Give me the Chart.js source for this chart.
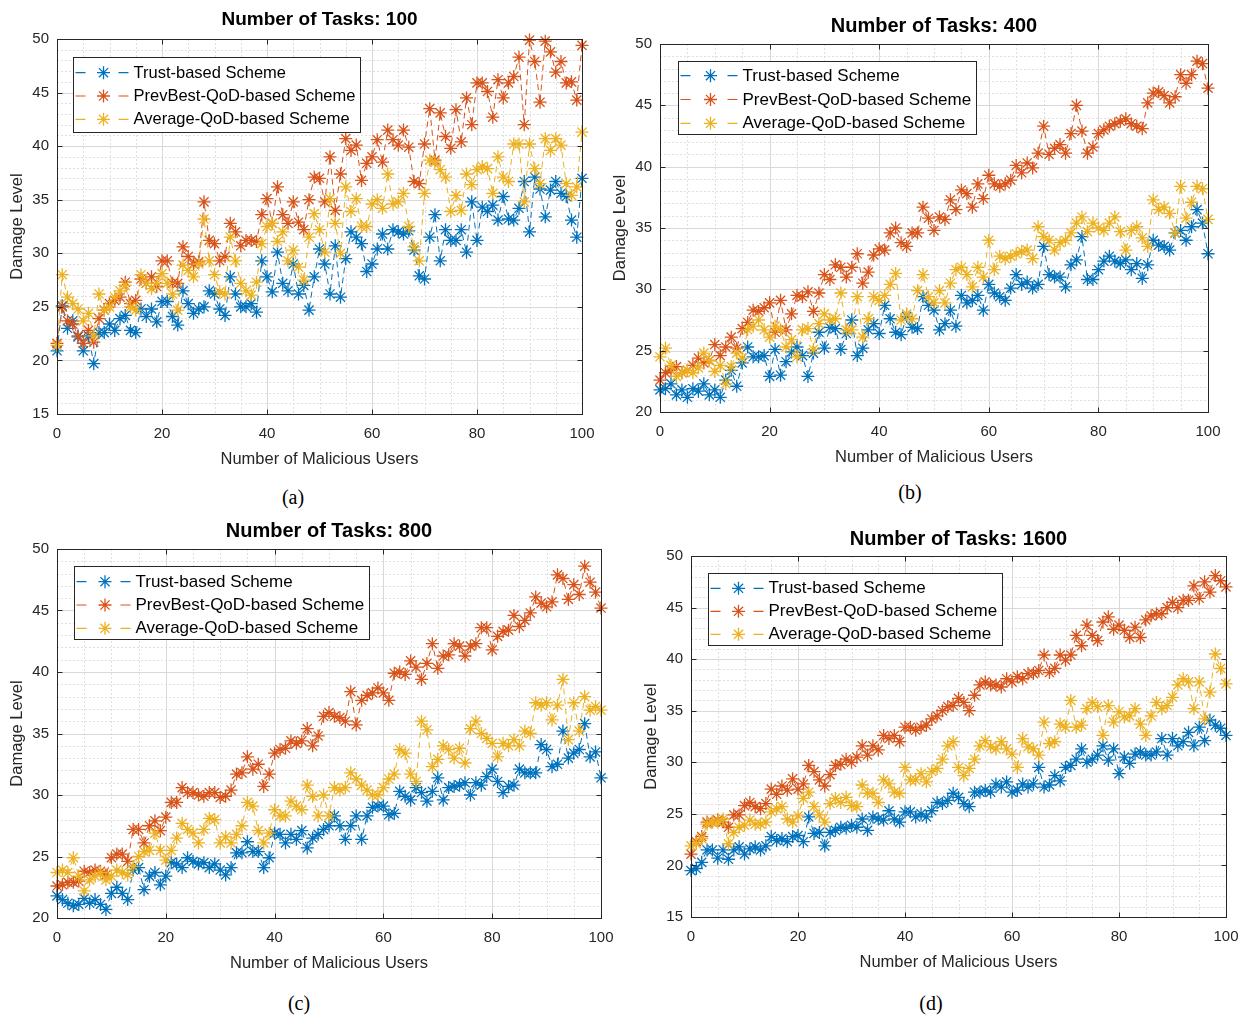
<!DOCTYPE html>
<html lang="en">
<head>
  <meta charset="UTF-8">
  <title>Damage Level vs Number of Malicious Users</title>
  <script src="https://cdn.jsdelivr.net/npm/chart.js"></script>
  <style>
    body { margin: 0; background: #fff; width: 1241px; height: 1015px; position: relative; overflow: hidden; }
    canvas { position: absolute; }
    .cap { position: absolute; transform: translate(-50%, -50%); font-family: "Liberation Serif", "Times New Roman", serif; font-size: 20px; color: #000; }
  </style>
</head>
<body>
  <canvas id="c100"></canvas>
  <canvas id="c400"></canvas>
  <canvas id="c800"></canvas>
  <canvas id="c1600"></canvas>
  <div class="cap" style="left:293px; top:497px;">(a)</div>
  <div class="cap" style="left:910px; top:492px;">(b)</div>
  <div class="cap" style="left:299px; top:1003px;">(c)</div>
  <div class="cap" style="left:931px; top:1003px;">(d)</div>

  <script>
    // x values: number of malicious users
    const users = [0,1,2,3,4,5,6,7,8,9,10,11,12,13,14,15,16,17,18,19,20,21,22,23,24,25,26,27,28,29,30,
      31,32,33,34,35,36,37,38,39,40,41,42,43,44,45,46,47,48,49,50,51,52,53,54,55,56,57,58,59,60,
      61,62,63,64,65,66,67,68,69,70,71,72,73,74,75,76,77,78,79,80,81,82,83,84,85,86,87,88,89,90,
      91,92,93,94,95,96,97,98,99,100];
    const xTicks = [0, 20, 40, 60, 80, 100];
    const seriesNames = ['Trust-based Scheme', 'PrevBest-QoD-based Scheme', 'Average-QoD-based Scheme'];

    // (a) 100 tasks
    const tasks100Trust = [20.9,25.1,23.0,23.7,22.2,20.9,22.3,19.7,22.6,22.6,
      23.4,22.8,23.9,24.2,22.8,22.6,24.8,24.1,24.8,23.6,
      25.5,25.5,24.1,23.3,26.5,25.3,24.4,24.8,25.0,26.5,
      26.2,24.8,24.2,27.8,26.2,25.0,25.0,25.3,24.5,29.3,
      27.8,26.4,30.1,27.2,26.5,29.0,26.2,27.0,24.7,27.8,
      30.4,29.0,26.2,30.7,25.9,29.5,32.0,31.5,30.9,28.3,
      29.0,30.4,31.8,30.4,32.2,32.0,31.8,32.1,30.3,27.9,
      27.6,31.5,33.6,29.3,32.2,31.2,31.2,32.2,30.1,34.8,
      31.2,34.3,33.9,34.5,33.1,35.3,33.2,33.1,34.2,36.7,
      32.0,37.1,36.0,33.4,35.9,36.7,35.6,35.3,33.1,31.5,37.0];
    const tasks100PrevBest = [21.6,25.0,23.7,23.4,22.3,21.6,22.8,21.7,23.9,24.7,
      25.3,25.6,25.9,27.3,25.3,25.6,27.6,27.2,27.8,26.9,
      29.3,29.3,27.2,27.2,30.6,29.7,29.0,29.2,34.8,31.2,
      30.9,29.3,29.7,32.8,32.0,30.7,31.2,31.2,31.1,33.6,
      35.1,32.8,36.2,33.6,32.8,34.8,32.9,32.2,35.0,37.1,
      37.0,34.8,39.0,34.0,37.4,40.7,39.6,40.1,36.8,38.4,
      39.0,40.6,38.5,41.5,40.6,40.1,41.5,39.9,36.7,36.5,
      40.2,43.5,38.7,43.1,40.9,39.8,43.4,40.4,44.5,42.0,
      45.9,45.9,45.1,42.7,46.2,44.5,45.9,46.5,48.3,42.0,
      49.9,47.9,44.1,49.8,48.8,46.9,47.9,45.9,46.0,44.3,49.4];
    const tasks100Average = [21.4,28.0,25.9,25.3,24.8,23.7,24.4,22.3,26.2,24.7,
      25.0,25.9,26.5,27.0,25.0,24.7,28.0,27.2,26.7,27.2,
      28.1,27.2,26.2,24.7,28.9,28.4,27.8,29.0,33.2,29.3,
      28.0,26.4,26.2,31.5,29.3,27.2,26.5,26.1,27.3,30.9,
      32.5,32.8,31.1,32.0,29.3,30.3,28.7,27.5,31.5,33.7,
      32.2,30.1,35.1,32.8,30.0,36.2,33.9,35.1,32.5,32.5,
      34.6,35.0,34.2,37.4,34.6,34.8,35.6,32.5,30.6,29.3,
      35.6,38.7,38.5,37.8,37.1,33.9,35.4,34.0,37.4,36.4,
      37.8,38.1,37.9,35.6,39.0,37.1,36.7,40.2,40.2,34.8,
      40.2,37.9,36.5,40.7,39.6,40.7,40.1,36.5,35.4,36.2,41.3];

    // (b) 400 tasks
    const tasks400Trust = [21.8,21.9,22.3,21.4,21.8,21.2,21.9,21.7,22.3,21.4,
      21.8,21.2,22.6,23.4,22.1,24.0,25.3,24.5,24.5,24.6,
      22.9,25.1,23.0,24.1,24.9,25.3,24.6,22.9,24.8,26.5,
      25.2,26.9,26.8,25.1,26.4,27.5,24.6,25.2,26.7,27.2,
      26.4,28.7,27.6,26.5,26.3,27.8,26.9,26.8,29.4,28.7,
      28.3,26.7,27.2,28.3,27.0,29.5,28.9,29.1,29.5,28.3,
      30.4,29.7,29.4,29.1,30.1,31.2,30.4,30.6,30.1,30.4,
      33.5,31.2,31.0,31.0,30.2,32.0,32.4,34.3,30.8,30.8,
      31.6,32.3,32.7,32.3,32.1,32.4,31.6,32.1,30.9,32.0,
      34.0,33.6,33.5,33.2,34.6,34.8,34.0,35.1,36.5,35.4,32.9];
    const tasks400PrevBest = [22.6,23.2,23.4,23.7,23.2,23.4,23.8,24.4,24.0,24.2,
      25.5,24.6,25.3,26.1,25.2,26.8,27.3,28.3,28.2,28.5,
      28.9,26.5,29.1,26.7,28.0,29.5,29.4,29.8,28.2,29.7,
      31.2,30.8,32.0,31.8,31.0,31.8,32.9,30.5,31.4,32.8,
      33.3,33.2,34.6,35.0,33.8,33.5,34.6,34.6,36.7,35.8,
      34.8,35.9,35.7,37.3,36.5,38.1,37.8,36.7,38.6,37.4,
      39.3,38.6,38.4,38.6,38.9,40.1,39.5,40.3,39.9,41.1,
      43.3,41.0,41.5,41.8,41.1,42.7,45.0,42.9,41.1,41.6,
      42.7,43.0,43.3,43.5,43.7,43.9,43.5,43.3,43.1,45.2,
      46.0,46.1,45.8,45.2,45.7,47.5,46.8,47.5,48.6,48.4,46.4];
    const tasks400Average = [24.5,25.2,23.8,22.9,23.2,23.4,23.2,23.6,24.8,24.2,
      23.3,23.8,22.3,23.7,24.8,24.4,26.7,27.0,27.5,26.7,
      26.1,27.0,26.7,25.3,25.9,24.5,26.7,26.8,25.1,27.2,
      28.0,27.5,27.6,29.7,26.7,26.7,29.4,26.1,27.6,29.4,
      29.1,29.5,30.4,31.3,27.5,28.0,27.6,29.9,31.2,29.4,
      28.9,29.9,28.9,30.5,31.6,31.8,31.2,30.2,31.8,31.0,
      34.0,31.6,32.7,32.5,32.7,32.9,33.1,33.2,32.5,35.1,
      34.3,34.0,33.2,33.8,34.0,34.6,35.4,35.9,34.7,35.4,
      35.0,34.8,35.4,35.9,34.7,33.2,34.8,35.1,34.2,33.5,
      37.3,36.5,36.7,36.2,34.6,38.4,35.8,37.1,38.4,38.2,35.7];

    // (c) 800 tasks
    const tasks800Trust = [21.8,21.5,21.2,21.0,21.1,21.6,21.2,21.5,21.1,20.7,
      22.0,22.5,22.0,21.5,23.9,24.1,22.3,23.4,23.7,22.7,
      23.4,24.5,24.4,24.1,24.9,24.6,24.4,24.5,24.1,24.4,
      23.9,23.5,24.1,25.3,25.3,26.2,25.4,25.4,24.1,24.9,
      26.9,26.8,26.1,26.8,26.4,27.1,25.7,26.5,26.8,27.2,
      27.5,28.3,27.5,26.4,27.5,28.3,26.4,28.3,29.0,29.1,
      29.1,28.4,28.5,30.3,29.9,29.6,30.6,30.2,29.5,30.3,
      31.4,29.6,30.6,30.7,30.8,31.0,30.0,31.0,30.8,31.5,
      32.1,31.1,30.2,30.7,30.8,32.1,31.8,31.8,31.8,34.1,
      33.7,32.3,32.5,35.2,33.0,33.4,33.7,35.8,33.1,33.5,31.4];
    const tasks800PrevBest = [22.6,22.7,22.9,22.9,23.0,23.8,23.7,23.9,23.8,23.5,
      24.9,25.2,25.2,24.6,27.2,27.2,26.1,27.5,27.9,27.1,
      28.2,29.4,29.4,30.6,30.2,30.2,30.0,29.9,30.2,30.2,
      29.8,29.9,30.4,31.7,31.8,33.1,32.1,32.5,30.7,31.7,
      33.4,33.7,33.8,34.4,34.2,34.4,35.4,34.0,34.8,36.4,
      36.7,36.4,36.3,36.0,38.4,35.7,37.7,38.1,38.3,38.7,
      38.3,37.7,39.9,40.0,39.8,40.9,40.4,39.4,40.7,42.3,
      40.3,41.3,41.4,42.3,42.1,41.3,42.1,42.3,43.6,43.6,
      41.8,42.9,43.3,43.4,44.6,43.7,44.2,44.8,46.1,45.6,
      45.3,45.7,47.9,47.6,45.9,47.1,46.3,48.6,47.3,46.5,45.2];
    const tasks800Average = [23.7,23.9,23.7,24.9,23.4,22.2,23.1,23.4,23.7,23.1,
      23.4,23.9,23.7,23.5,24.2,25.0,25.4,25.5,26.9,25.5,
      24.7,25.5,26.5,27.7,27.2,26.9,26.1,27.2,28.1,28.0,
      26.1,26.6,26.1,26.8,27.5,29.4,29.1,27.1,26.1,26.9,
      28.8,28.3,28.3,29.5,29.1,28.8,30.8,29.9,28.3,30.0,
      28.3,30.6,30.4,30.6,31.8,31.3,30.8,30.4,30.0,30.0,
      30.6,31.3,31.7,33.7,33.4,31.7,31.1,36.0,35.3,32.3,
      32.9,34.0,33.7,33.0,33.8,32.6,35.4,36.0,35.0,34.6,
      34.2,33.1,34.2,34.0,34.5,34.0,35.2,35.0,37.5,37.3,
      37.5,36.1,37.3,39.4,34.5,37.5,35.2,38.0,36.9,37.2,36.9];

    // (d) 1600 tasks
    const tasks1600Trust = [19.5,19.7,20.3,21.5,21.5,20.7,21.5,20.6,21.5,21.8,
      21.1,21.6,21.8,21.5,21.9,22.8,22.4,22.6,22.3,22.8,
      22.9,22.3,24.7,23.1,23.2,21.9,23.2,23.4,23.7,23.6,
      23.9,23.7,24.5,23.4,24.7,24.5,24.4,25.3,24.5,24.2,
      25.2,25.2,24.7,25.0,24.7,25.3,26.1,26.0,26.3,27.0,
      26.6,26.0,25.7,27.1,27.1,27.3,27.1,27.9,27.6,28.1,
      27.1,27.3,27.9,27.6,27.9,29.5,27.6,27.8,28.7,28.2,
      29.5,29.7,30.3,31.3,30.0,30.3,30.7,31.6,30.2,31.3,
      28.9,30.5,29.9,30.8,31.0,30.7,30.7,31.0,32.3,30.7,
      32.3,31.6,32.0,32.9,31.6,33.4,32.1,34.1,33.6,33.3,32.6];
    const tasks1600PrevBest = [21.1,22.3,22.8,24.2,24.2,24.4,24.2,23.7,24.9,24.9,
      25.8,26.1,25.7,25.5,26.0,27.4,26.9,27.7,27.3,28.4,
      27.4,27.9,29.7,29.1,28.3,27.7,28.8,29.7,29.8,30.3,
      30.0,30.5,31.6,30.7,31.6,31.2,32.6,32.3,32.6,32.0,
      33.4,33.4,33.1,33.4,33.6,34.2,34.5,35.0,35.4,35.5,
      36.2,35.8,35.0,36.5,37.5,37.8,37.5,37.5,37.3,38.1,
      37.8,38.3,38.1,38.6,38.6,38.9,40.4,38.7,39.1,40.4,
      39.9,40.4,42.3,41.3,43.3,42.3,41.8,43.6,44.1,42.9,
      43.3,42.8,42.1,43.1,42.1,43.8,44.2,44.4,44.4,45.0,
      45.5,45.0,45.7,45.7,47.1,45.9,47.5,46.5,48.1,47.6,47.0];
    const tasks1600Average = [21.9,22.1,22.6,24.0,24.2,24.2,24.5,22.1,23.2,23.7,
      23.9,24.4,24.0,24.0,24.2,25.2,25.5,25.7,24.5,24.2,
      24.8,26.5,27.1,25.7,24.9,24.2,26.0,26.5,26.1,26.6,
      25.8,25.7,27.8,27.0,27.0,26.1,28.3,27.9,27.1,27.0,
      29.5,28.3,28.3,28.9,28.1,29.1,29.4,30.3,31.6,32.0,
      29.5,28.7,29.4,30.3,31.6,32.1,31.5,31.3,32.0,31.3,
      30.8,29.5,32.3,31.5,31.3,30.7,33.9,31.8,32.0,33.7,
      33.4,36.0,33.4,33.6,35.2,35.8,35.4,32.6,35.5,33.9,
      34.9,34.4,34.5,35.2,33.7,32.6,34.5,35.8,35.2,35.5,
      36.3,37.5,38.1,37.8,35.2,37.8,34.2,36.8,40.5,39.1,37.6];

    const colors = ['#0072BD', '#D95319', '#EDB120'];
    const AXIS = '#262626';
    const FONT = '"Liberation Sans", Arial, Helvetica, sans-serif';

    Chart.defaults.font.family = FONT;

    // star marker like matlab '*'
    function drawStar(ctx, x, y, r) {
      ctx.beginPath();
      for (let k = 0; k < 4; k++) {
        const a = k * Math.PI / 4;
        ctx.moveTo(x - Math.cos(a) * r, y - Math.sin(a) * r);
        ctx.lineTo(x + Math.cos(a) * r, y + Math.sin(a) * r);
      }
      ctx.stroke();
    }

    // grid, box, ticks and legend in matlab style
    const matlabAxes = {
      id: 'matlabAxes',
      beforeDatasetsDraw(chart, args, o) {
        const { ctx, chartArea: a, scales: { x, y } } = chart;
        const px = v => Math.round(x.getPixelForValue(v)) + 0.5;
        const py = v => Math.round(y.getPixelForValue(v)) + 0.5;
        ctx.save();
        ctx.lineWidth = 1;
        // minor grid
        ctx.strokeStyle = '#e0e0e0';
        ctx.setLineDash([2, 2]);
        ctx.beginPath();
        for (let v = x.min; v <= x.max; v += 5) {
          if (v % 20 === 0) continue;
          ctx.moveTo(px(v), a.top); ctx.lineTo(px(v), a.bottom);
        }
        for (let v = y.min; v <= y.max; v += 1) {
          if (v % 5 === 0) continue;
          ctx.moveTo(a.left, py(v)); ctx.lineTo(a.right, py(v));
        }
        ctx.stroke();
        // major grid
        ctx.setLineDash([]);
        ctx.strokeStyle = '#d9d9d9';
        ctx.beginPath();
        for (let v = x.min; v <= x.max; v += 20) {
          ctx.moveTo(px(v), a.top); ctx.lineTo(px(v), a.bottom);
        }
        for (let v = y.min; v <= y.max; v += 5) {
          ctx.moveTo(a.left, py(v)); ctx.lineTo(a.right, py(v));
        }
        ctx.stroke();
        ctx.restore();
      },
      afterDatasetsDraw(chart, args, o) {
        const { ctx, chartArea: a, scales: { x, y } } = chart;
        const L = Math.round(a.left) + 0.5, R = Math.round(a.right) + 0.5;
        const T = Math.round(a.top) + 0.5, B = Math.round(a.bottom) + 0.5;
        ctx.save();
        ctx.strokeStyle = AXIS;
        ctx.lineWidth = 1;
        ctx.strokeRect(L, T, R - L, B - T);
        ctx.beginPath();
        xTicks.forEach(v => {
          const p = Math.round(x.getPixelForValue(v)) + 0.5;
          ctx.moveTo(p, B); ctx.lineTo(p, B - 5);
          ctx.moveTo(p, T); ctx.lineTo(p, T + 5);
        });
        for (let v = y.min; v <= y.max; v += 5) {
          const p = Math.round(y.getPixelForValue(v)) + 0.5;
          ctx.moveTo(L, p); ctx.lineTo(L + 5, p);
          ctx.moveTo(R, p); ctx.lineTo(R - 5, p);
        }
        ctx.stroke();

        // legend
        const lg = o.legend;
        const bx = Math.round(a.left + lg.dx) + 0.5;
        const by = Math.round(a.top + lg.dy) + 0.5;
        const tx = bx + lg.textDx;
        ctx.font = lg.size + 'px ' + FONT;
        const tw = Math.max(...seriesNames.map(n => ctx.measureText(n).width));
        const bw = Math.round(tx + tw + 5 - bx);
        ctx.fillStyle = '#fff';
        ctx.fillRect(bx, by, bw, lg.h);
        ctx.strokeStyle = AXIS;
        ctx.strokeRect(bx, by, bw, lg.h);
        seriesNames.forEach((name, k) => {
          const cy = a.top + lg.row0 + k * lg.gap;
          ctx.strokeStyle = colors[k];
          ctx.lineWidth = 1.2;
          ctx.beginPath();
          ctx.moveTo(bx + 2, cy); ctx.lineTo(bx + 12, cy);
          ctx.moveTo(tx - 15, cy); ctx.lineTo(tx - 5, cy);
          ctx.stroke();
          ctx.lineWidth = 1.3;
          drawStar(ctx, (bx + tx) / 2, cy, 6.5);
          ctx.fillStyle = '#000';
          ctx.textBaseline = 'middle';
          ctx.textAlign = 'left';
          ctx.fillText(name, tx, cy + 0.5);
        });
        ctx.restore();
      }
    };

    function makePanel(id, cfg) {
      const [pl, pt, pr, pb] = cfg.plot;
      const canvas = document.getElementById(id);
      const left = pl - 57, top = pt - 39;
      canvas.width = pr - pl + 57 + 15;
      canvas.height = pb - pt + 39 + 60;
      canvas.style.left = left + 'px';
      canvas.style.top = top + 'px';
      const lh = cfg.titleSize * 1.2;
      const tTop = 39 - cfg.titleOffset - lh / 2;

      const mk = (vals, k) => ({
        label: seriesNames[k],
        data: vals.map((v, i) => ({ x: users[i], y: v })),
        borderColor: colors[k],
        backgroundColor: colors[k],
        borderWidth: 1,
        borderDash: [6, 4],
        pointStyle: 'star',
        pointRadius: 6.5,
        pointBorderWidth: 1.3,
        pointBorderColor: colors[k],
        tension: 0,
        clip: false,
        order: 3 - k
      });

      new Chart(canvas, {
        type: 'line',
        data: { datasets: [mk(cfg.series[0], 0), mk(cfg.series[1], 1), mk(cfg.series[2], 2)] },
        options: {
          responsive: false,
          animation: false,
          devicePixelRatio: 1,
          events: [],
          layout: { padding: { left: 0, top: 0, right: 15, bottom: 0 } },
          plugins: {
            legend: { display: false },
            tooltip: { enabled: false },
            title: {
              display: true,
              text: cfg.title,
              fullSize: false,
              color: '#000',
              font: { size: cfg.titleSize, weight: 'bold' },
              padding: { top: tTop, bottom: 39 - lh - tTop }
            },
            matlabAxes: { legend: cfg.legend }
          },
          scales: {
            x: {
              type: 'linear',
              min: 0, max: 100,
              grid: { display: false, drawTicks: false },
              border: { display: false },
              ticks: { stepSize: 20, padding: 11, color: AXIS, font: { size: 15 } },
              title: { display: true, text: 'Number of Malicious Users', color: AXIS,
                       font: { size: 16.5 }, padding: { top: 0, bottom: 4.5 } },
              afterFit: s => { s.height = 60; s.paddingLeft = 0; s.paddingRight = 0; }
            },
            y: {
              min: cfg.yMin, max: cfg.yMax,
              grid: { display: false, drawTicks: false },
              border: { display: false },
              ticks: { stepSize: 5, padding: 8, color: AXIS, font: { size: 15 } },
              title: { display: true, text: 'Damage Level', color: AXIS,
                       font: { size: 16.5 }, padding: { top: 8, bottom: 0 } },
              afterFit: s => { s.width = 57; s.paddingTop = 0; s.paddingBottom = 0; }
            }
          }
        },
        plugins: [matlabAxes]
      });
    }

    makePanel('c100', {
      title: 'Number of Tasks: 100', titleSize: 19, titleOffset: 19,
      plot: [57, 39, 582, 414], yMin: 15, yMax: 50,
      series: [tasks100Trust, tasks100PrevBest, tasks100Average],
      legend: { dx: 16, dy: 18, h: 75, textDx: 60, row0: 33.7, gap: 23.3, size: 16.5 }
    });
    makePanel('c400', {
      title: 'Number of Tasks: 400', titleSize: 20, titleOffset: 18,
      plot: [660, 44, 1208, 412], yMin: 20, yMax: 50,
      series: [tasks400Trust, tasks400PrevBest, tasks400Average],
      legend: { dx: 18, dy: 17, h: 73, textDx: 64, row0: 31.7, gap: 23.8, size: 17 }
    });
    makePanel('c800', {
      title: 'Number of Tasks: 800', titleSize: 20, titleOffset: 18,
      plot: [57, 549, 601, 918], yMin: 20, yMax: 50,
      series: [tasks800Trust, tasks800PrevBest, tasks800Average],
      legend: { dx: 17, dy: 17, h: 73, textDx: 61, row0: 32.7, gap: 23.3, size: 17 }
    });
    makePanel('c1600', {
      title: 'Number of Tasks: 1600', titleSize: 20, titleOffset: 17,
      plot: [691, 556, 1226, 917], yMin: 15, yMax: 50,
      series: [tasks1600Trust, tasks1600PrevBest, tasks1600Average],
      legend: { dx: 17, dy: 17, h: 72, textDx: 60, row0: 32.3, gap: 23, size: 17 }
    });
  </script>
</body>
</html>
